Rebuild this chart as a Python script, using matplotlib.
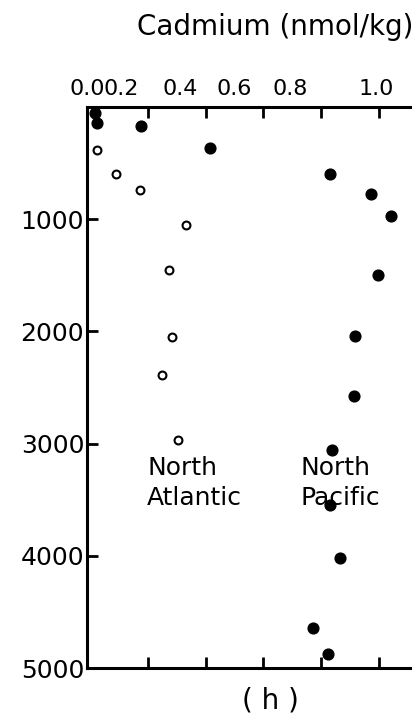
import numpy as np
import matplotlib
matplotlib.use("Agg")
from matplotlib import pyplot as plt

# North Atlantic (open circles): cadmium (nmol/kg) vs depth (m)
atl_cd = [0.023, 0.088, 0.173, 0.332, 0.273, 0.284, 0.250, 0.303]
atl_depth = [380, 600, 740, 1050, 1450, 2050, 2385, 2970]

# North Pacific (filled circles)
pac_cd = [0.018, 0.024, 0.176, 0.414, 0.831, 0.973, 1.044, 0.998, 0.919,
          0.914, 0.837, 0.831, 0.865, 0.772, 0.823]
pac_depth = [50, 140, 165, 365, 600, 775, 970, 1495, 2045,
             2575, 3060, 3545, 4020, 4645, 4875]

x_ticks = [0.2, 0.4, 0.6, 0.8, 1.0]
x_labels = ['0.0', '0.2', '0.4', '0.6', '0.8', '1.0']
y_ticks = [1000, 2000, 3000, 4000, 5000]
y_labels = ['1000', '2000', '3000', '4000', '5000']

# the labels in the original sit a little left of their ticks
label_shift = [-0.011, -0.092, -0.088, -0.101, -0.107, -0.007]

plt.rcParams['font.family'] = ['DejaVu Sans']

fig = plt.figure(figsize=(4.2, 7.27), dpi=100)
ax = fig.add_axes([87 / 420, 1 - 668 / 727, 323 / 420, 561 / 727])

ax.scatter(pac_cd, pac_depth, s=60, color='black', zorder=3, clip_on=False)
ax.scatter(atl_cd, atl_depth, s=32, facecolor='white', edgecolor='black',
           linewidth=1.5, zorder=3, clip_on=False)

# the drawn left axis line sits slightly right of the 0.0 position
ax.set_xlim(0.009, 1.109)
ax.set_ylim(5000, 0)

for s in ['top', 'left', 'bottom']:
    ax.spines[s].set_linewidth(2.2)
ax.spines['right'].set_visible(False)

# tick marks (inside) at the real positions
ax.set_xticks(x_ticks, minor=True)
ax.tick_params(axis='x', which='minor', direction='in', length=8, width=2,
               top=True, bottom=True)
# tick labels at their drawn positions
lab_x = [v + d for v, d in zip([0.0] + x_ticks, label_shift)]
ax.set_xticks(lab_x)
ax.set_xticklabels(x_labels)
ax.tick_params(axis='x', which='major', length=0, top=True, bottom=False,
               labeltop=True, labelbottom=False, labelsize=16, pad=6)
for lbl in ax.get_xticklabels():
    lbl.set_clip_on(False)

ax.set_yticks(y_ticks)
ax.set_yticklabels(y_labels)
ax.tick_params(axis='y', direction='in', length=8, width=2, labelsize=18,
               pad=2)

fig.text(275 / 420, 1 - 27 / 727, 'Cadmium (nmol/kg)', ha='center',
         va='center', fontsize=20)
ax.text(0.198, 3280, 'North', ha='left', va='baseline', fontsize=18)
ax.text(0.198, 3545, 'Atlantic', ha='left', va='baseline', fontsize=18)
ax.text(0.731, 3280, 'North', ha='left', va='baseline', fontsize=18)
ax.text(0.731, 3545, 'Pacific', ha='left', va='baseline', fontsize=18)
fig.text(270 / 420, 1 - 700 / 727, '( h )', ha='center', va='center',
         fontsize=20)

fig.savefig('out.png', dpi=100)
